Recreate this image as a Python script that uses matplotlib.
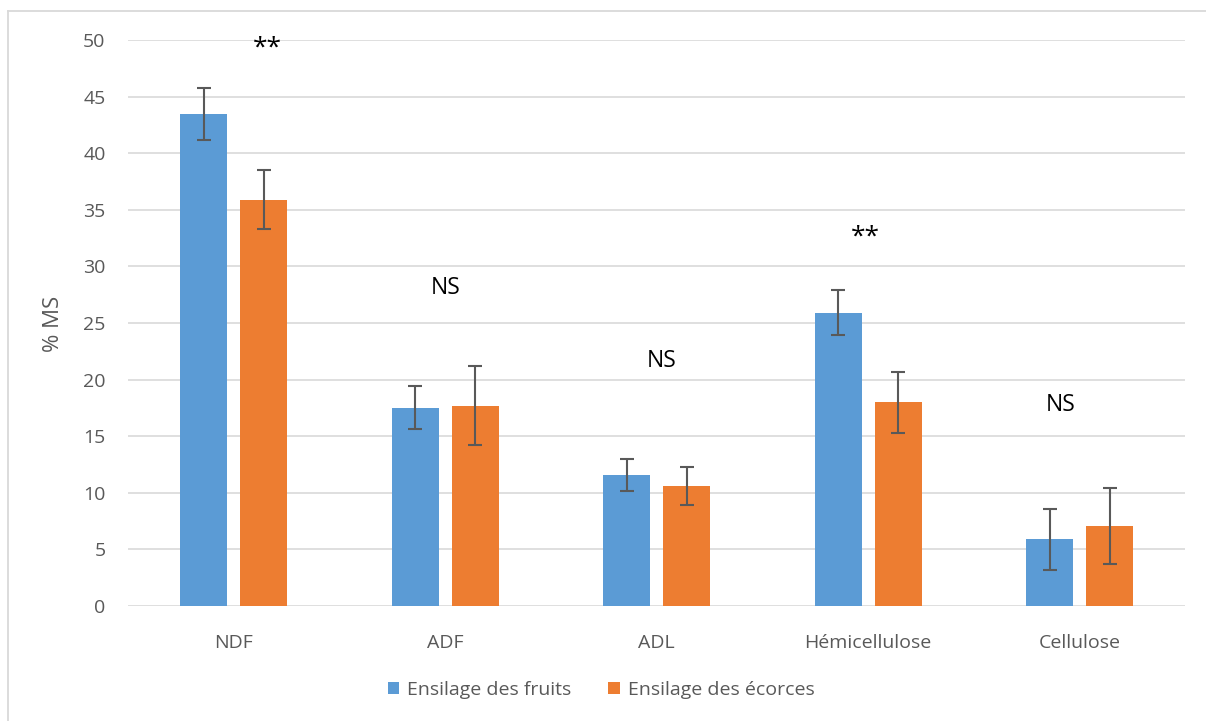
import matplotlib.pyplot as plt
import numpy as np
from matplotlib.lines import Line2D

plt.rcParams['font.family'] = ['Open Sans', 'DejaVu Sans']

# composition en fibres (% MS), moyenne et ecart-type
categories = ['NDF', 'ADF', 'ADL', 'Hémicellulose', 'Cellulose']
fruits = [43.5, 17.5, 11.6, 25.9, 5.9]
fruits_sd = [2.3, 1.9, 1.4, 2.0, 2.7]
ecorces = [35.9, 17.7, 10.6, 18.0, 7.1]
ecorces_sd = [2.6, 3.5, 1.65, 2.7, 3.35]
signif = ['**', 'NS', 'NS', '**', 'NS']
signif_x = [0.16, 1.0, 2.025, 2.985, 3.91]
signif_y = [49.25, 28.05, 21.6, 32.6, 17.75]

blue = '#5b9bd5'
orange = '#ed7d31'
grey = '#595959'

fig = plt.figure(figsize=(12.06, 7.21), dpi=100)
ax = fig.add_axes([0.106, 0.1595, 0.877, 0.785])

# bord du cadre (haut et gauche seulement)
x0, y0 = 7.5 / 1206, 1 - 10.5 / 721
fig.add_artist(Line2D([x0, 1], [y0, y0], color='#d9d9d9', linewidth=1.3,
                      transform=fig.transFigure))
fig.add_artist(Line2D([x0, x0], [0, y0], color='#d9d9d9', linewidth=1.3,
                      transform=fig.transFigure))

x = np.arange(len(categories))
w = 0.222
off = 0.142
err_kw = dict(ecolor=grey, elinewidth=1.5, capsize=5, capthick=1.5)
ax.bar(x - off, fruits, w, yerr=fruits_sd, color=blue, label='Ensilage des fruits',
       error_kw=err_kw, zorder=3)
ax.bar(x + off, ecorces, w, yerr=ecorces_sd, color=orange, label='Ensilage des écorces',
       error_kw=err_kw, zorder=3)

for xs, s, yv in zip(signif_x, signif, signif_y):
    size = 19 if s == '**' else 16.5
    ax.text(xs, yv, s, ha='center', va='center', fontsize=size, color='black')

ax.set_xlim(-0.5, len(categories) - 0.5)
ax.set_ylim(0, 50)
ax.set_yticks(range(0, 51, 5))
ax.set_xticks(x)
ax.set_xticklabels(categories)
ax.grid(axis='y', color='#d9d9d9', linewidth=1.2, zorder=0)
ax.set_axisbelow(True)
for sp in ax.spines.values():
    sp.set_visible(False)
ax.tick_params(length=0, labelsize=14, colors=grey)
ax.tick_params(axis='y', pad=16)
ax.tick_params(axis='x', pad=20)
ax.set_ylabel('% MS', fontsize=16, color=grey)
ax.yaxis.set_label_coords((64 - 128) / 1058, (606 - 323.5) / 566)

ax.legend(loc='center', bbox_to_anchor=(0.4475, -0.148), ncol=2, frameon=False,
          fontsize=14, labelcolor=grey, handlelength=0.6, handleheight=0.6,
          handletextpad=0.4, columnspacing=1.9)

fig.savefig('out.png', dpi=100)
